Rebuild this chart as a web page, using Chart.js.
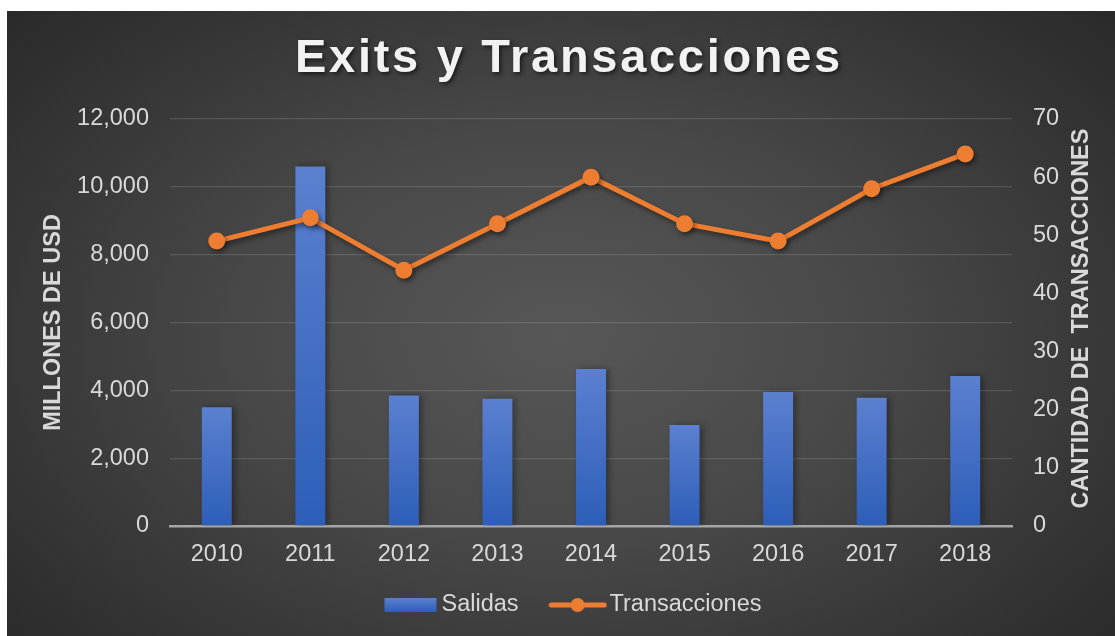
<!DOCTYPE html>
<html><head><meta charset="utf-8">
<script src="https://cdn.jsdelivr.net/npm/chart.js@4.4.1/dist/chart.umd.min.js"></script>
<style>
html,body{margin:0;padding:0;background:#ffffff;}
#wrap{position:absolute;left:7px;top:11px;width:1108px;height:625px;
background: radial-gradient(ellipse 72% 82% at 50% 52%, #575757 0%, #484848 40%, #303030 82%, #272727 100%);}
canvas{display:block;}
</style></head><body>
<div id="wrap"><canvas id="c" width="1108" height="625"></canvas></div>
<script>
const years = ['2010','2011','2012','2013','2014','2015','2016','2017','2018'];
const salidas = [3500, 10600, 3850, 3750, 4630, 2980, 3950, 3780, 4420];
const transacciones = [49, 53, 44, 52, 60, 52, 49, 58, 64];
const chartTitle = 'Exits y Transacciones';
const leftTitle = 'MILLONES DE USD';
const rightTitle = 'CANTIDAD DE  TRANSACCIONES';
const leftMax = 12000, leftStep = 2000;
const rightMax = 70, rightStep = 10;

const FONT = "'Liberation Sans', Arial, sans-serif";
const TXT = '#d9d9d9';
const ORANGE = '#ed7d31';

// legend swatches (transparent margins give the spacing of the original legend)
const barSwatch = document.createElement('canvas');
barSwatch.width = 84; barSwatch.height = 14;
(function(){
  const c = barSwatch.getContext('2d');
  const g = c.createLinearGradient(0,0,0,14);
  g.addColorStop(0,'#5b80d0'); g.addColorStop(1,'#2d5eb8');
  c.fillStyle = g; c.fillRect(31.4,0,52,14);
})();
const lineSwatch = document.createElement('canvas');
lineSwatch.width = 88; lineSwatch.height = 18;
(function(){
  const c = lineSwatch.getContext('2d');
  c.strokeStyle = ORANGE; c.lineWidth = 5; c.lineCap = 'round';
  c.beginPath(); c.moveTo(32, 9); c.lineTo(85, 9); c.stroke();
  c.fillStyle = ORANGE; c.beginPath(); c.arc(58.4, 9, 7, 0, Math.PI*2); c.fill();
})();

const titleStyle = {
  id: 'titleStyle',
  beforeDraw(chart) {
    const t = chart.titleBlock;
    if (t && !t._styled) {
      const orig = t.draw.bind(t);
      t.draw = function() {
        const ctx = this.ctx;
        ctx.save();
        ctx.letterSpacing = '2.7px';
        ctx.shadowColor = 'rgba(0,0,0,0.6)';
        ctx.shadowBlur = 4; ctx.shadowOffsetX = 2; ctx.shadowOffsetY = 2;
        ctx.translate(8, 0);
        orig();
        ctx.restore();
      };
      t._styled = true;
    }
  },
  afterDraw(chart) {
    const ctx = chart.ctx;
    const a = chart.chartArea;
    ctx.save();
    ctx.translate(1074.5, (a.top + a.bottom) / 2 - 4);
    ctx.rotate(-Math.PI / 2);
    ctx.font = 'bold 23.5px ' + FONT;
    ctx.fillStyle = TXT;
    ctx.textAlign = 'center';
    ctx.textBaseline = 'middle';
    ctx.fillText(rightTitle, 0, 0);
    ctx.restore();
  }
};

const shadows = {
  id: 'shadows',
  beforeDatasetDraw(chart, args) {
    const ctx = chart.ctx; ctx.save();
    if (args.index === 1) {
      ctx.shadowColor = 'rgba(0,0,0,0.45)'; ctx.shadowBlur = 5; ctx.shadowOffsetX = 2; ctx.shadowOffsetY = 3;
    } else {
      ctx.shadowColor = 'rgba(0,0,0,0.35)'; ctx.shadowBlur = 6; ctx.shadowOffsetX = 3; ctx.shadowOffsetY = 0;
    }
  },
  afterDatasetDraw(chart) { chart.ctx.restore(); }
};

function barGradient(ctx) {
  const chart = ctx.chart;
  if (!chart.chartArea || ctx.type !== 'data') return '#4472c4';
  const y = chart.scales.y;
  const top = y.getPixelForValue(ctx.raw);
  const bottom = y.getPixelForValue(0);
  const g = chart.ctx.createLinearGradient(0, top, 0, bottom);
  g.addColorStop(0, '#5b80d0');
  g.addColorStop(1, '#2d5eb8');
  return g;
}

new Chart(document.getElementById('c'), {
  type: 'bar',
  data: {
    labels: years,
    datasets: [
      { type: 'bar', label: 'Salidas', data: salidas, yAxisID: 'y', order: 1,
        backgroundColor: barGradient, borderWidth: 0,
        barPercentage: 0.4, categoryPercentage: 0.8 },
      { type: 'line', label: 'Transacciones', data: transacciones, yAxisID: 'y1', order: 0,
        borderColor: ORANGE, borderWidth: 5, backgroundColor: ORANGE,
        pointRadius: 8.5, pointHoverRadius: 8.5, pointBackgroundColor: ORANGE, pointBorderWidth: 0,
        tension: 0, fill: false }
    ]
  },
  options: {
    responsive: false,
    animation: false,
    layout: { padding: { left: 0, right: 0, top: 0, bottom: 9.25 } },
    plugins: {
      tooltip: { enabled: false },
      title: {
        display: true, text: chartTitle, color: '#f2f2f2',
        font: { family: FONT, size: 47, weight: 'bold' },
        padding: { top: 20, bottom: 31.6 }
      },
      legend: {
        position: 'bottom',
        labels: {
          color: TXT,
          font: { family: FONT, size: 23.5 },
          usePointStyle: true,
          pointStyleWidth: 69.25,
          padding: 10,
          generateLabels: (chart) => [
            { text: chart.data.datasets[0].label, pointStyle: barSwatch, fillStyle: 'rgba(0,0,0,0)',
              strokeStyle: 'rgba(0,0,0,0)', lineWidth: 0, hidden: false, datasetIndex: 0, fontColor: TXT },
            { text: chart.data.datasets[1].label, pointStyle: lineSwatch, fillStyle: 'rgba(0,0,0,0)',
              strokeStyle: 'rgba(0,0,0,0)', lineWidth: 0, hidden: false, datasetIndex: 1, fontColor: TXT }
          ]
        }
      }
    },
    scales: {
      x: {
        grid: { display: false, drawTicks: false },
        border: { display: true, color: '#a6a6a6', width: 2.5 },
        ticks: { color: TXT, font: { family: FONT, size: 23.5 }, padding: 14 },
        afterFit: (s) => { s.height = 57.25; }
      },
      y: {
        position: 'left', min: 0, max: leftMax,
        ticks: { stepSize: leftStep, color: TXT, font: { family: FONT, size: 23.5 }, padding: 21,
                 callback: (v) => v.toLocaleString('en-US') },
        grid: { color: 'rgba(255,255,255,0.13)', lineWidth: 1.3, drawTicks: false },
        border: { display: false },
        title: { display: true, text: leftTitle, color: TXT,
                 font: { family: FONT, size: 23.5, weight: 'bold' }, padding: { top: 32.9, bottom: 0 } },
        afterFit: (s) => { s.width = 163; }
      },
      y1: {
        position: 'right', min: 0, max: rightMax,
        ticks: { stepSize: rightStep, color: TXT, font: { family: FONT, size: 23.5 }, padding: 21 },
        grid: { display: false, drawTicks: false },
        border: { display: false },
        afterFit: (s) => { s.width = 103; }
      }
    }
  },
  plugins: [titleStyle, shadows]
});
</script>
</body></html>
